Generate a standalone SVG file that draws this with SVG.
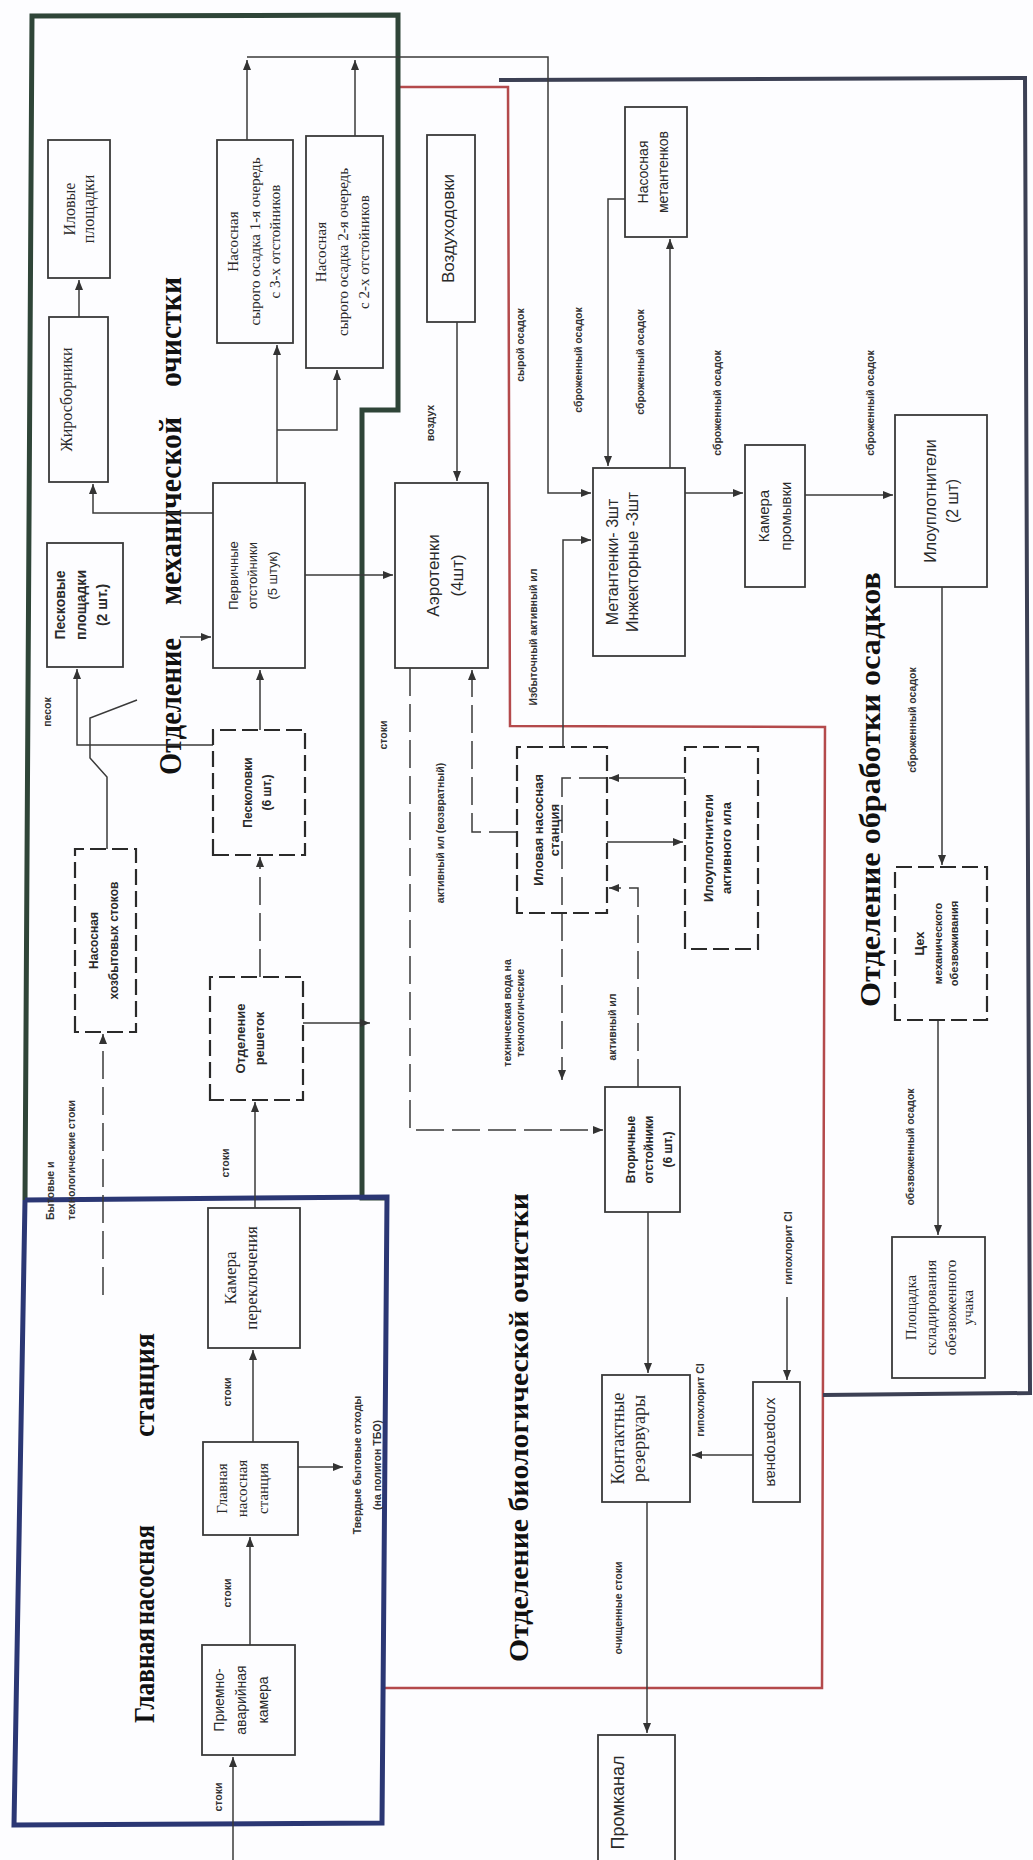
<svg xmlns="http://www.w3.org/2000/svg" width="1033" height="1860" viewBox="0 0 1033 1860">
<defs>
<marker id="ah" viewBox="0 0 10 8" refX="10" refY="4" markerWidth="10" markerHeight="8" orient="auto" markerUnits="userSpaceOnUse"><path d="M0,0 L10,4 L0,8 z" fill="#333"/></marker>
<style>
.box{fill:none;stroke:#3a3a3a;stroke-width:1.8}
.dbox{fill:none;stroke:#2a2a2a;stroke-width:2.2;stroke-dasharray:16 6}
.ln{fill:none;stroke:#3a3a3a;stroke-width:1.5}
.dl{stroke-dasharray:28 8}
.serif{font-family:"Liberation Serif","Times New Roman",serif;fill:#2a2a2a;text-anchor:middle}
.sans{font-family:"Liberation Sans",Arial,sans-serif;fill:#2a2a2a;text-anchor:middle}
.bold{font-weight:bold}
.lbl{font-family:"Liberation Sans",Arial,sans-serif;font-weight:bold;font-size:10.5px;fill:#333;text-anchor:middle}
.title{font-family:"Liberation Serif","Times New Roman",serif;font-weight:bold;fill:#111}
.sec-mech{fill:none;stroke:#2f4538;stroke-width:5;stroke-linejoin:miter}
.sec-main{fill:none;stroke:#2b3774;stroke-width:5}
.sec-bio{fill:none;stroke:#b44a4c;stroke-width:2.5}
.sec-sludge{fill:none;stroke:#3c4054;stroke-width:4}
</style>
</defs>
<rect width="1033" height="1860" fill="#fdfdff"/>

<g id="sections">
<polyline class="sec-bio" points="398,87 508,87 510,726 825,727 822,1688 382,1688"/>
<polyline class="sec-sludge" points="499,80 1025,78 1030,1393 823,1395"/>
<polyline class="sec-mech" points="25,1200 32,16 398,15 398,410 362,410 362,1198 387,1198"/>
<polyline class="sec-main" points="25,1200 387,1197 382,1823 14,1825 25,1200"/>
<text class="title" font-size="32" transform="translate(181,0) rotate(-90)" x="-775" textLength="137" lengthAdjust="spacingAndGlyphs">Отделение</text>
<text class="title" font-size="32" transform="translate(181,0) rotate(-90)" x="-605" textLength="188" lengthAdjust="spacingAndGlyphs">механической</text>
<text class="title" font-size="32" transform="translate(181,0) rotate(-90)" x="-387" textLength="110" lengthAdjust="spacingAndGlyphs">очистки</text>
<text class="title" font-size="29" transform="translate(154,0) rotate(-90)" x="-1723" textLength="95" lengthAdjust="spacingAndGlyphs">Главная</text>
<text class="title" font-size="29" transform="translate(154,0) rotate(-90)" x="-1625" textLength="100" lengthAdjust="spacingAndGlyphs">насосная</text>
<text class="title" font-size="29" transform="translate(154,0) rotate(-90)" x="-1437" textLength="104" lengthAdjust="spacingAndGlyphs">станция</text>
<text class="title" font-size="28" transform="translate(528,0) rotate(-90)" x="-1662" textLength="469" lengthAdjust="spacingAndGlyphs">Отделение биологической очистки</text>
<text class="title" font-size="30" transform="translate(880,0) rotate(-90)" x="-1007" textLength="435" lengthAdjust="spacingAndGlyphs">Отделение обработки осадков</text>
</g>

<g id="connectors">
<line class="ln" x1="79" y1="317" x2="79" y2="280" marker-end="url(#ah)"/>
<polyline class="ln" points="213,513 93,513 93,484" marker-end="url(#ah)"/>
<polyline class="ln" points="213,745 77,745 77,669" marker-end="url(#ah)"/>
<polyline class="ln" points="107,849 107,777 90,758 90,718 137,700"/>
<line class="ln" x1="180" y1="637" x2="211" y2="637" marker-end="url(#ah)"/>
<line class="ln" x1="260" y1="730" x2="260" y2="670" marker-end="url(#ah)"/>
<line class="ln dl" x1="260" y1="977" x2="260" y2="857" marker-end="url(#ah)"/>
<line class="ln" x1="255" y1="1208" x2="255" y2="1102" marker-end="url(#ah)"/>
<line class="ln" x1="253" y1="1442" x2="253" y2="1350" marker-end="url(#ah)"/>
<line class="ln" x1="250" y1="1645" x2="250" y2="1537" marker-end="url(#ah)"/>
<line class="ln" x1="233" y1="1860" x2="233" y2="1757" marker-end="url(#ah)"/>
<line class="ln" x1="298" y1="1467" x2="343" y2="1467" marker-end="url(#ah)"/>
<line class="ln dl" x1="103" y1="1295" x2="103" y2="1034" marker-end="url(#ah)"/>
<line class="ln" x1="303" y1="1023" x2="370" y2="1023" marker-end="url(#ah)"/>
<line class="ln" x1="277" y1="483" x2="277" y2="345" marker-end="url(#ah)"/>
<polyline class="ln" points="277,430 337,430 337,370" marker-end="url(#ah)"/>
<line class="ln" x1="247" y1="140" x2="247" y2="60" marker-end="url(#ah)"/>
<line class="ln" x1="355" y1="136" x2="355" y2="60" marker-end="url(#ah)"/>
<polyline class="ln" points="247,57 548,57 548,493 591,493" marker-end="url(#ah)"/>
<line class="ln" x1="305" y1="575" x2="393" y2="575" marker-end="url(#ah)"/>
<line class="ln" x1="457" y1="322" x2="457" y2="481" marker-end="url(#ah)"/>
<polyline class="ln dl" points="410,668 410,1130 603,1130" marker-end="url(#ah)"/>
<polyline class="ln dl" points="517,832 472,832 472,670" marker-end="url(#ah)"/>
<polyline class="ln" points="563,747 563,540 591,540" marker-end="url(#ah)"/>
<line class="ln" x1="685" y1="778" x2="609" y2="778" marker-end="url(#ah)"/>
<polyline class="ln dl" points="607,778 562,778 562,1080" marker-end="url(#ah)"/>
<line class="ln" x1="607" y1="842" x2="683" y2="842" marker-end="url(#ah)"/>
<polyline class="ln dl" points="638,1087 638,888 609,888" marker-end="url(#ah)"/>
<line class="ln" x1="648" y1="1212" x2="648" y2="1373" marker-end="url(#ah)"/>
<line class="ln" x1="647" y1="1502" x2="647" y2="1733" marker-end="url(#ah)"/>
<line class="ln" x1="753" y1="1455" x2="692" y2="1455" marker-end="url(#ah)"/>
<line class="ln" x1="787" y1="1297" x2="787" y2="1380" marker-end="url(#ah)"/>
<line class="ln" x1="670" y1="468" x2="670" y2="239" marker-end="url(#ah)"/>
<polyline class="ln" points="625,199 608,199 608,466" marker-end="url(#ah)"/>
<line class="ln" x1="685" y1="493" x2="743" y2="493" marker-end="url(#ah)"/>
<line class="ln" x1="805" y1="495" x2="893" y2="495" marker-end="url(#ah)"/>
<line class="ln" x1="942" y1="587" x2="942" y2="865" marker-end="url(#ah)"/>
<line class="ln" x1="938" y1="1020" x2="938" y2="1235" marker-end="url(#ah)"/>
</g>

<g id="edge-labels">
<text class="lbl" transform="translate(51,712) rotate(-90)">песок</text>
<text class="lbl" font-size="9.5" style="text-anchor:start" transform="translate(54,1220) rotate(-90)">Бытовые и</text>
<text class="lbl" font-size="9.5" style="text-anchor:start" transform="translate(75,1220) rotate(-90)">технологические стоки</text>
<text class="lbl" transform="translate(229,1163) rotate(-90)">стоки</text>
<text class="lbl" transform="translate(231,1392) rotate(-90)">стоки</text>
<text class="lbl" transform="translate(231,1593) rotate(-90)">стоки</text>
<text class="lbl" transform="translate(222,1797) rotate(-90)">стоки</text>
<text class="lbl" font-size="10" transform="translate(361,1465) rotate(-90)">Твердые бытовые отходы</text>
<text class="lbl" font-size="10" transform="translate(381,1465) rotate(-90)">(на полигон ТБО)</text>
<text class="lbl" transform="translate(524,345) rotate(-90)">сырой осадок</text>
<text class="lbl" transform="translate(434,423) rotate(-90)">воздух</text>
<text class="lbl" transform="translate(582,360) rotate(-90)">сброженный осадок</text>
<text class="lbl" transform="translate(644,362) rotate(-90)">сброженный осадок</text>
<text class="lbl" transform="translate(721,403) rotate(-90)">сброженный осадок</text>
<text class="lbl" transform="translate(874,403) rotate(-90)">сброженный осадок</text>
<text class="lbl" transform="translate(916,720) rotate(-90)">сброженный осадок</text>
<text class="lbl" transform="translate(537,637) rotate(-90)">Избыточный активный ил</text>
<text class="lbl" font-size="10" transform="translate(444,833) rotate(-90)">активный ил (возвратный)</text>
<text class="lbl" transform="translate(387,735) rotate(-90)">стоки</text>
<text class="lbl" font-size="9" transform="translate(511,1013) rotate(-90)">техническая вода на</text>
<text class="lbl" font-size="9" transform="translate(524,1013) rotate(-90)">технологические</text>
<text class="lbl" font-size="10" transform="translate(616,1027) rotate(-90)">активный ил</text>
<text class="lbl" transform="translate(622,1608) rotate(-90)">очищенные стоки</text>
<text class="lbl" transform="translate(792,1248) rotate(-90)">гипохлорит Cl</text>
<text class="lbl" transform="translate(704,1400) rotate(-90)">гипохлорит Cl</text>
<text class="lbl" transform="translate(914,1147) rotate(-90)">обезвоженный осадок</text>
</g>

<g id="n-ilovye-ploshchadki" transform="translate(79,209) rotate(-90)"><rect class="box" x="-69" y="-31" width="138" height="62"/><text class="serif" font-size="16"><tspan x="0" y="-4">Иловые</tspan><tspan x="0" y="15">площадки</tspan></text></g>
<g id="n-zhirosborniki" transform="translate(78.5,399.5) rotate(-90)"><rect class="box" x="-82.5" y="-29.5" width="165" height="59"/><text class="serif" font-size="16" x="0" y="-7">Жиросборники</text></g>
<g id="n-peskovye" transform="translate(85,605) rotate(-90)"><rect class="box" x="-62" y="-38" width="124" height="76"/><text class="sans bold" font-size="14"><tspan x="0" y="-20">Песковые</tspan><tspan x="0" y="1">площадки</tspan><tspan x="0" y="22">(2 шт.)</tspan></text></g>
<g id="n-nasosnaya-hozbyt" transform="translate(105.5,940.5) rotate(-90)"><rect class="dbox" x="-91.5" y="-30.5" width="183" height="61"/><text class="sans bold" font-size="12"><tspan x="0" y="-8">Насосная</tspan><tspan x="0" y="12">хозбытовых стоков</tspan></text></g>
<g id="n-peskolovki" transform="translate(259,792.5) rotate(-90)"><rect class="dbox" x="-62.5" y="-46" width="125" height="92"/><text class="sans bold" font-size="12"><tspan x="0" y="-7">Песколовки</tspan><tspan x="0" y="12">(6 шт.)</tspan></text></g>
<g id="n-pervichnye" transform="translate(259,575.5) rotate(-90)"><rect class="box" x="-92.5" y="-46" width="185" height="92"/><text class="sans" font-size="13"><tspan x="0" y="-21.5">Первичные</tspan><tspan x="0" y="-2.5">отстойники</tspan><tspan x="0" y="17.5">(5 штук)</tspan></text></g>
<g id="n-otdelenie-reshetok" transform="translate(256.5,1038.5) rotate(-90)"><rect class="dbox" x="-61.5" y="-46.5" width="123" height="93"/><text class="sans bold" font-size="13"><tspan x="0" y="-12">Отделение</tspan><tspan x="0" y="7">решеток</tspan></text></g>
<g id="n-kamera-pereklyucheniya" transform="translate(254,1278) rotate(-90)"><rect class="box" x="-70" y="-46" width="140" height="92"/><text class="serif" font-size="17"><tspan x="0" y="-18">Камера</tspan><tspan x="0" y="3">переключения</tspan></text></g>
<g id="n-glavnaya-ns" transform="translate(250.5,1488.5) rotate(-90)"><rect class="box" x="-46.5" y="-47.5" width="93" height="95"/><text class="serif" font-size="15"><tspan x="0" y="-23.5">Главная</tspan><tspan x="0" y="-3.5">насосная</tspan><tspan x="0" y="17.5">станция</tspan></text></g>
<g id="n-priemno-avariynaya" transform="translate(248.5,1700) rotate(-90)"><rect class="box" x="-55" y="-46.5" width="110" height="93"/><text class="sans" font-size="14"><tspan x="0" y="-25">Приемно-</tspan><tspan x="0" y="-3">аварийная</tspan><tspan x="0" y="19">камера</tspan></text></g>
<g id="n-nasosnaya-1" transform="translate(255,241.5) rotate(-90)"><rect class="box" x="-101.5" y="-38" width="203" height="76"/><text class="serif" font-size="15"><tspan x="0" y="-17">Насосная</tspan><tspan x="0" y="5">сырого осадка 1-я очередь</tspan><tspan x="0" y="25">с 3-х отстойников</tspan></text></g>
<g id="n-nasosnaya-2" transform="translate(344.5,252) rotate(-90)"><rect class="box" x="-116" y="-38.5" width="232" height="77"/><text class="serif" font-size="15"><tspan x="0" y="-19">Насосная</tspan><tspan x="0" y="3">сырого осадка 2-я очередь</tspan><tspan x="0" y="24">с 2-х отстойников</tspan></text></g>
<g id="n-vozduhoduvki" transform="translate(451,228.5) rotate(-90)"><rect class="box" x="-93.5" y="-24" width="187" height="48"/><text class="sans" font-size="17" x="0" y="3">Воздуходовки</text></g>
<g id="n-aerotenki" transform="translate(441.5,575.5) rotate(-90)"><rect class="box" x="-92.5" y="-46.5" width="185" height="93"/><text class="sans" font-size="17"><tspan x="0" y="-2.5">Аэротенки</tspan><tspan x="0" y="21.5">(4шт)</tspan></text></g>
<g id="n-ilovaya-ns" transform="translate(562,830) rotate(-90)"><rect class="dbox" x="-83" y="-45" width="166" height="90"/><text class="sans bold" font-size="13"><tspan x="0" y="-19.5">Иловая насосная</tspan><tspan x="0" y="-3">станция</tspan></text></g>
<g id="n-iloupl-aktiv" transform="translate(721.5,848) rotate(-90)"><rect class="dbox" x="-101" y="-36.5" width="202" height="73"/><text class="sans bold" font-size="13"><tspan x="0" y="-9">Илоуплотнители</tspan><tspan x="0" y="9">активного ила</tspan></text></g>
<g id="n-vtorichnye" transform="translate(642.5,1149.5) rotate(-90)"><rect class="box" x="-62.5" y="-37.5" width="125" height="75"/><text class="sans bold" font-size="12"><tspan x="0" y="-8">Вторичные</tspan><tspan x="0" y="10">отстойники</tspan><tspan x="0" y="29">(6 шт.)</tspan></text></g>
<g id="n-kontaktnye" transform="translate(646,1438.5) rotate(-90)"><rect class="box" x="-63.5" y="-44" width="127" height="88"/><text class="serif" font-size="18"><tspan x="0" y="-22">Контактные</tspan><tspan x="0" y="-1">резервуары</tspan></text></g>
<g id="n-promkanal" transform="translate(636.5,1802.5) rotate(-90)"><rect class="box" x="-67.5" y="-38.5" width="135" height="77"/><text class="sans" font-size="18" x="0" y="-13">Промканал</text></g>
<g id="n-hloratornaya" transform="translate(776.5,1442) rotate(90)"><rect class="box" x="-60" y="-23.5" width="120" height="47"/><text class="sans" font-size="15" x="0" y="9.5">хлораторная</text></g>
<g id="n-metantenki" transform="translate(639,562) rotate(-90)"><rect class="box" x="-94" y="-46" width="188" height="92"/><text class="sans" font-size="16"><tspan x="0" y="-21">Метантенки- 3шт</tspan><tspan x="0" y="-1">Инжекторные -3шт</tspan></text></g>
<g id="n-nasosnaya-metantenkov" transform="translate(656,172) rotate(-90)"><rect class="box" x="-65" y="-31" width="130" height="62"/><text class="sans" font-size="14"><tspan x="0" y="-8">Насосная</tspan><tspan x="0" y="12">метантенков</tspan></text></g>
<g id="n-kamera-promyvki" transform="translate(775,516) rotate(-90)"><rect class="box" x="-71" y="-30" width="142" height="60"/><text class="sans" font-size="15"><tspan x="0" y="-6.5">Камера</tspan><tspan x="0" y="15.5">промывки</tspan></text></g>
<g id="n-iloupl-2" transform="translate(941,501) rotate(-90)"><rect class="box" x="-86" y="-46" width="172" height="92"/><text class="sans" font-size="16"><tspan x="0" y="-5.5">Илоуплотнители</tspan><tspan x="0" y="16.5">(2 шт)</tspan></text></g>
<g id="n-ceh" transform="translate(941,943.5) rotate(-90)"><rect class="dbox" x="-76.5" y="-46" width="153" height="92"/><text class="sans bold" font-size="11"><tspan x="0" y="-17" font-size="13">Цех</tspan><tspan x="0" y="1">механического</tspan><tspan x="0" y="17">обезвоживания</tspan></text></g>
<g id="n-ploshchadka" transform="translate(938.5,1307.5) rotate(-90)"><rect class="box" x="-70.5" y="-46.5" width="141" height="93"/><text class="serif" font-size="15"><tspan x="0" y="-23">Площадка</tspan><tspan x="0" y="-3">складирования</tspan><tspan x="0" y="17">обезвоженного</tspan><tspan x="0" y="34">учака</tspan></text></g>
</svg>
